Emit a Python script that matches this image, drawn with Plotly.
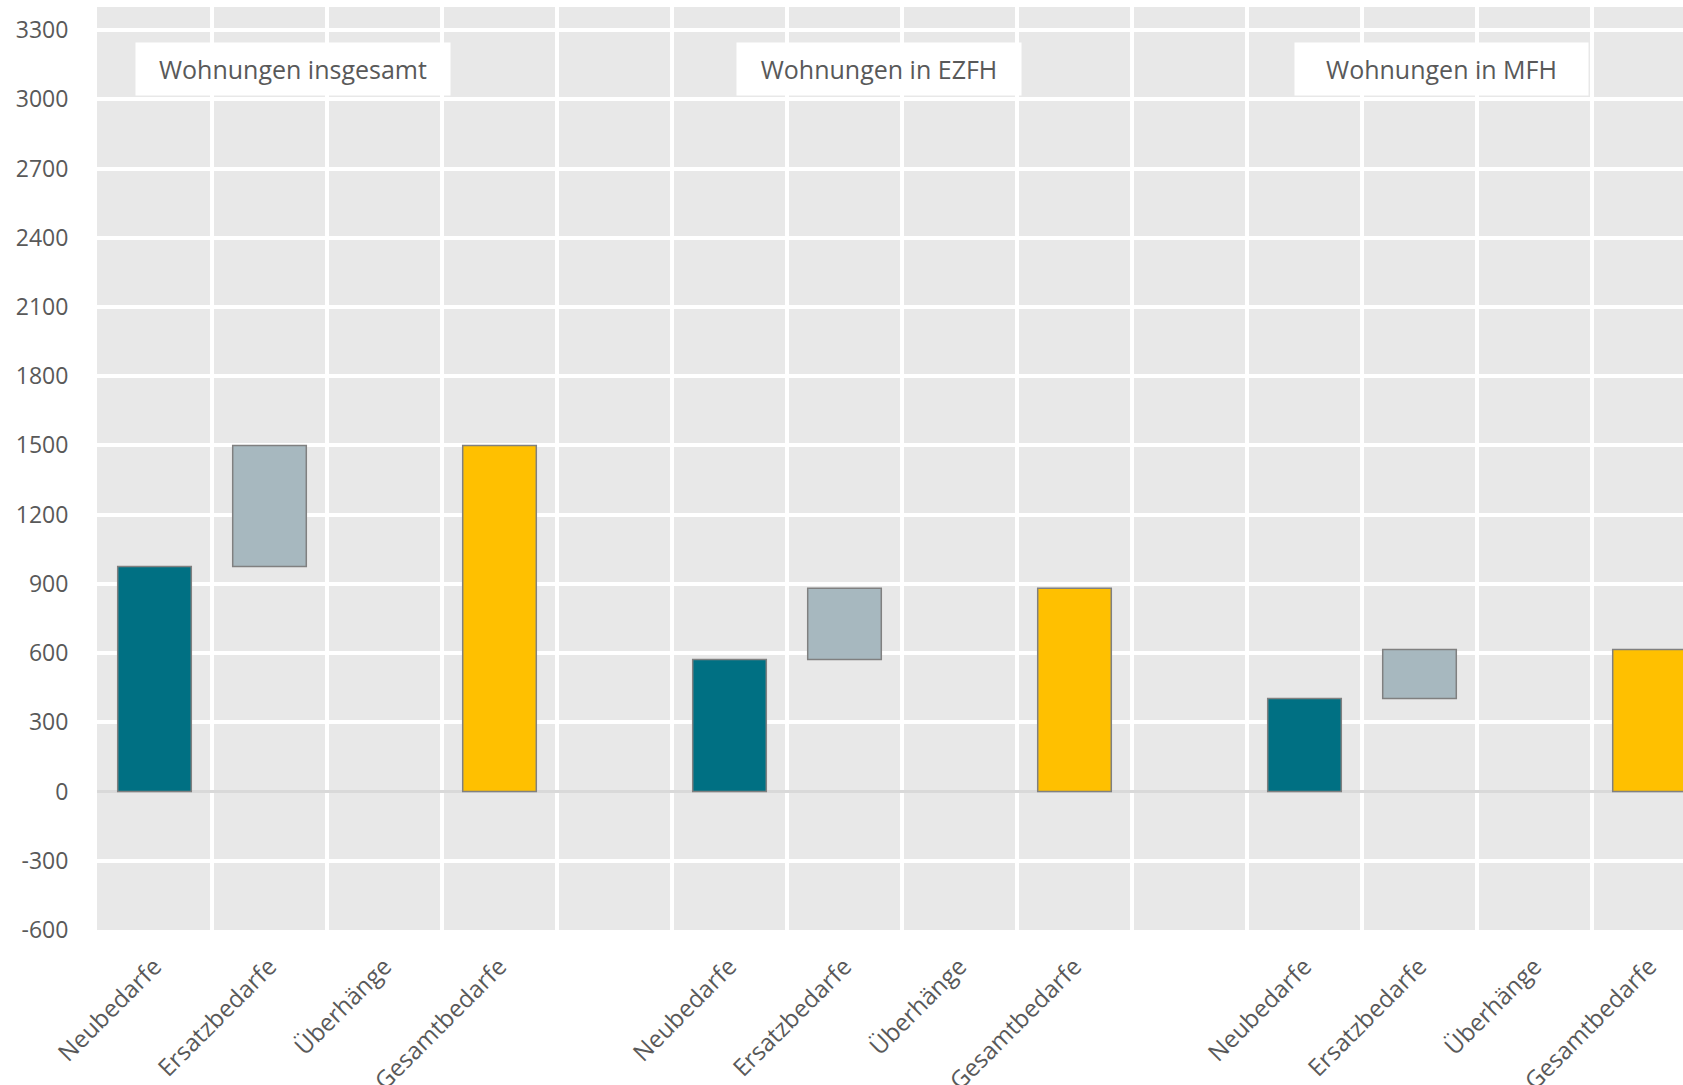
import plotly.graph_objects as go

# ---- data ----
categories = ["Neubedarfe", "Ersatzbedarfe", "Überhänge", "Gesamtbedarfe", "",
              "Neubedarfe", "Ersatzbedarfe", "Überhänge", "Gesamtbedarfe", "",
              "Neubedarfe", "Ersatzbedarfe", "Überhänge", "Gesamtbedarfe"]
groups = ["Wohnungen insgesamt", "Wohnungen in EZFH", "Wohnungen in MFH"]
neubedarfe = [975, 572, 403]
ersatzbedarfe = [525, 309, 213]
ueberhaenge = [0, 0, 0]
gesamtbedarfe = [1500, 881, 616]
y_ticks = [-600, -300, 0, 300, 600, 900, 1200, 1500, 1800, 2100, 2400, 2700, 3000, 3300]

# slot positions of each group (4 bars + 1 gap)
x_neu = [i * 5 + 0 for i in range(3)]
x_ers = [i * 5 + 1 for i in range(3)]
x_ueb = [i * 5 + 2 for i in range(3)]
x_ges = [i * 5 + 3 for i in range(3)]

FONT = "Open Sans"
TXT = "#595959"
OUTLINE = dict(color="#808080", width=1.5)
BW = 0.64

fig = go.Figure()
fig.add_trace(go.Bar(x=x_neu, y=neubedarfe, width=BW, name="Neubedarfe",
                     marker=dict(color="#007083", line=OUTLINE)))
fig.add_trace(go.Bar(x=x_ers, y=ersatzbedarfe, base=neubedarfe, width=BW, name="Ersatzbedarfe",
                     marker=dict(color="#A7B8BF", line=OUTLINE)))
fig.add_trace(go.Bar(x=x_ueb, y=ueberhaenge, width=BW, name="Überhänge",
                     marker=dict(color="#C00000", line=dict(width=0))))
fig.add_trace(go.Bar(x=x_ges, y=gesamtbedarfe, width=BW, name="Gesamtbedarfe",
                     marker=dict(color="#FFC000", line=OUTLINE)))

# group labels
box_w = [296, 266, 275]
box_x = [1.20, 6.30, 11.19]
for g, bx, w in zip(groups, box_x, box_w):
    fig.add_annotation(x=bx, xref="x", y=0.933, yref="paper", text=g,
                       showarrow=False, bgcolor="white", borderpad=9, width=w,
                       font=dict(family=FONT, size=25, color=TXT),
                       xanchor="center", yanchor="middle")

W, H = 1683, 1085
ml, mt = 97, 7
plot_w = W - ml
plot_h = 923
slot = 115

fig.update_layout(
    width=W, height=H,
    margin=dict(l=ml, r=0, t=mt, b=H - mt - plot_h, pad=0, autoexpand=False),
    paper_bgcolor="white", plot_bgcolor="#E8E8E8",
    barmode="overlay", showlegend=False,
    font=dict(family=FONT, color=TXT),
)
fig.update_xaxes(
    range=[-0.5, -0.5 + plot_w / slot], automargin=False,
    tickmode="array", tickvals=list(range(len(categories))), ticktext=categories,
    tickangle=-45, tickfont=dict(family=FONT, size=24, color=TXT),
    showgrid=False, zeroline=False, showline=False,
    ticks="outside", ticklen=12, tickcolor="rgba(0,0,0,0)",
    minor=dict(tickmode="array", tickvals=[k - 0.5 for k in range(len(categories) + 1)],
               showgrid=True, gridcolor="white", gridwidth=3.5, ticks=""),
)
fig.update_yaxes(
    range=[-600, 3400], automargin=False,
    tickmode="array", tickvals=y_ticks, ticktext=[str(v) for v in y_ticks],
    tickfont=dict(family=FONT, size=23, color=TXT),
    showgrid=True, gridcolor="white", gridwidth=3.5,
    zeroline=True, zerolinecolor="#D9D9D9", zerolinewidth=2.5,
    showline=False, ticks="outside", ticklen=23, tickcolor="rgba(0,0,0,0)",
)

fig.write_html(
    "out.html",
    config={"displayModeBar": False},
    post_script="document.body.style.margin='0';document.body.style.overflow='hidden';",
)
